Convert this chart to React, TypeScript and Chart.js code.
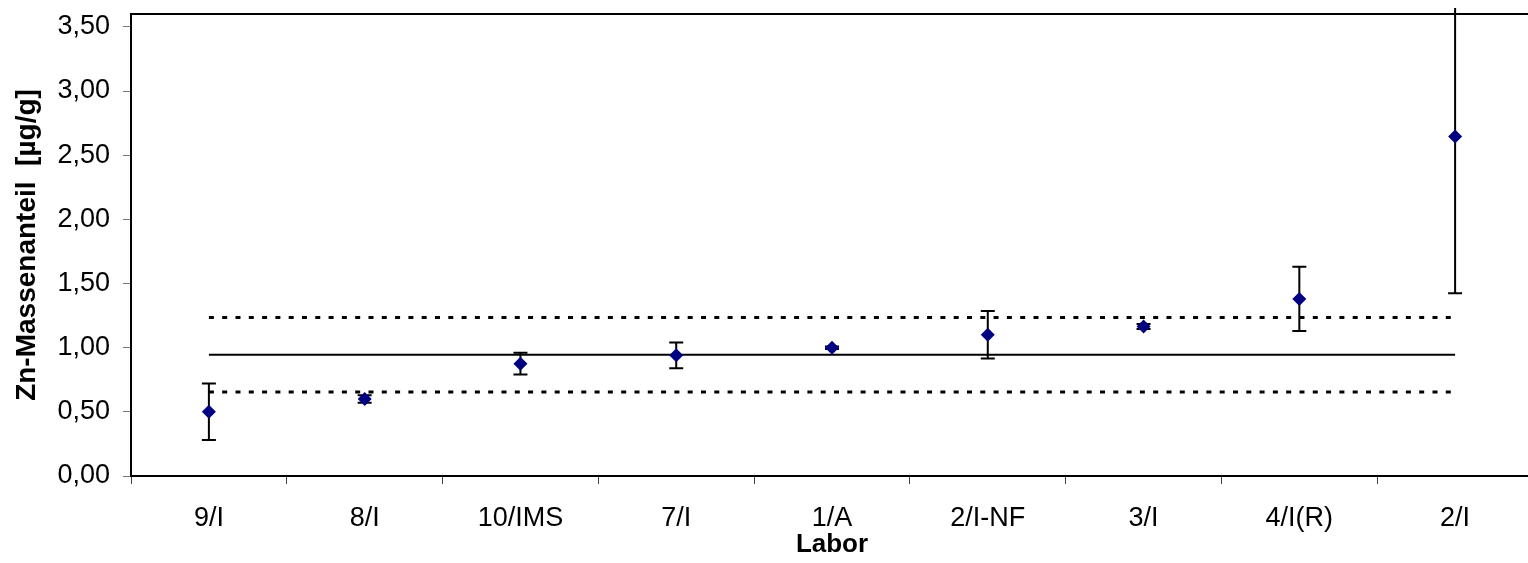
import React, { useEffect, useRef } from "react";
import { Chart, registerables } from "chart.js";

Chart.register(...registerables);

const categories = ["9/I", "8/I", "10/IMS", "7/I", "1/A", "2/I-NF", "3/I", "4/I(R)", "2/I"];
const values = [0.5, 0.6, 0.875, 0.94, 1.0, 1.1, 1.165, 1.38, 2.645];
const errors = [0.22, 0.03, 0.085, 0.1, 0.01, 0.185, 0.02, 0.25, 1.22];
const meanLine = [0.945, 0.945, 0.945, 0.945, 0.945, 0.945, 0.945, 0.945, 0.945];
const upperLine = [1.235, 1.235, 1.235, 1.235, 1.235, 1.235, 1.235, 1.235, 1.235];
const lowerLine = [0.655, 0.655, 0.655, 0.655, 0.655, 0.655, 0.655, 0.655, 0.655];
const yTicks = [0, 0.5, 1, 1.5, 2, 2.5, 3, 3.5];

const FONT = "'Liberation Sans', Arial, sans-serif";

const errorBarPlugin = {
  id: "errorBars",
  beforeDatasetsDraw(chart: any) {
    const { ctx, chartArea, scales } = chart;
    const x = scales.x;
    const y = scales.y;
    ctx.save();
    ctx.beginPath();
    ctx.rect(chartArea.left, chartArea.top - 6, chartArea.right - chartArea.left, chartArea.bottom - chartArea.top + 6);
    ctx.clip();
    ctx.strokeStyle = "#000";
    ctx.lineWidth = 2;
    values.forEach((v, i) => {
      const px = x.getPixelForValue(i);
      const yt = y.getPixelForValue(v + errors[i]);
      const yb = y.getPixelForValue(v - errors[i]);
      ctx.beginPath();
      ctx.moveTo(px, yt);
      ctx.lineTo(px, yb);
      ctx.moveTo(px - 7, yt);
      ctx.lineTo(px + 7, yt);
      ctx.moveTo(px - 7, yb);
      ctx.lineTo(px + 7, yb);
      ctx.stroke();
    });
    ctx.restore();
  },
};

const topBorderPlugin = {
  id: "topBorder",
  afterDraw(chart: any) {
    const { ctx, chartArea } = chart;
    ctx.save();
    ctx.strokeStyle = "#000";
    ctx.lineWidth = 2;
    ctx.beginPath();
    ctx.moveTo(chartArea.left, chartArea.top);
    ctx.lineTo(chartArea.right, chartArea.top);
    ctx.moveTo(chartArea.right, chartArea.top);
    ctx.lineTo(chartArea.right, chartArea.bottom);
    ctx.stroke();
    ctx.restore();
  },
};

export default function App() {
  const ref = useRef<HTMLCanvasElement>(null);
  useEffect(() => {
    const canvas = ref.current;
    if (!canvas) return;
    const chart = new Chart(canvas, {
      type: "line",
      data: {
        labels: categories,
        datasets: [
          {
            label: "Zn",
            data: values,
            showLine: false,
            pointStyle: "rectRot",
            pointRadius: 7,
            pointHoverRadius: 7,
            pointBackgroundColor: "#000080",
            pointBorderColor: "#000080",
            pointBorderWidth: 0,
          },
          {
            label: "Mittelwert",
            data: meanLine,
            borderColor: "#000",
            borderWidth: 2,
            pointRadius: 0,
            fill: false,
          },
          {
            label: "oben",
            data: upperLine,
            borderColor: "#000",
            borderWidth: 3,
            borderDash: [5, 8.3],
            pointRadius: 0,
            fill: false,
          },
          {
            label: "unten",
            data: lowerLine,
            borderColor: "#000",
            borderWidth: 3,
            borderDash: [5, 8.3],
            pointRadius: 0,
            fill: false,
          },
        ],
      },
      options: {
        responsive: false,
        animation: false,
        events: [],
        layout: { padding: { left: 0, top: 14, right: 3, bottom: 0 } },
        plugins: {
          legend: { display: false },
          tooltip: { enabled: false },
        },
        scales: {
          x: {
            type: "category",
            offset: true,
            grid: {
              offset: true,
              drawOnChartArea: false,
              drawTicks: true,
              tickLength: 8,
              color: "#444",
              lineWidth: 1,
            },
            border: { display: true, color: "#000", width: 2 },
            ticks: {
              color: "#000",
              padding: 18,
              maxRotation: 0,
              autoSkip: false,
              font: { family: FONT, size: 27 },
            },
            title: {
              display: true,
              text: "Labor",
              color: "#000",
              padding: { top: 0, bottom: 3 },
              font: { family: FONT, size: 26, weight: "bold" },
            },
            afterFit(scale: any) {
              scale.height = 87;
              scale.paddingLeft = 0;
              scale.paddingRight = 0;
            },
          },
          y: {
            type: "linear",
            min: 0,
            max: 3.6,
            afterBuildTicks(scale: any) {
              scale.ticks = yTicks.map((v) => ({ value: v }));
            },
            grid: {
              drawOnChartArea: false,
              drawTicks: true,
              tickLength: 8,
              color: "#777",
              lineWidth: 1,
            },
            border: { display: true, color: "#000", width: 2 },
            ticks: {
              color: "#000",
              padding: 13,
              font: { family: FONT, size: 27 },
              callback: (v: any) => Number(v).toFixed(2).replace(".", ","),
            },
            title: {
              display: true,
              text: "Zn-Massenanteil  [µg/g]",
              color: "#000",
              padding: { top: 10, bottom: 0 },
              font: { family: FONT, size: 28, weight: "bold" },
            },
            afterFit(scale: any) {
              scale.width = 131;
              scale.paddingTop = 0;
              scale.paddingBottom = 0;
            },
          },
        },
      },
      plugins: [errorBarPlugin, topBorderPlugin],
    } as any);
    return () => chart.destroy();
  }, []);
  return (
    <div style={{ position: "fixed", left: 0, top: 0, width: 1540, height: 563, background: "#fff", overflow: "hidden" }}>
      <canvas ref={ref} width={1540} height={563} style={{ display: "block" }} />
    </div>
  );
}
